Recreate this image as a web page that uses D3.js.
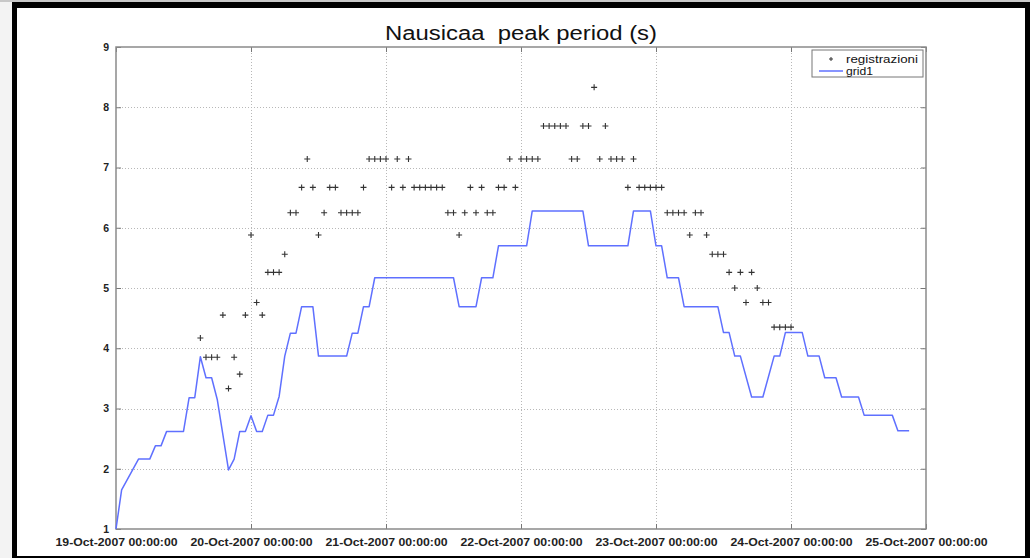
<!DOCTYPE html>
<html>
<head>
<meta charset="utf-8">
<script src="https://cdn.jsdelivr.net/npm/d3@7"></script>
<style>
  html, body { margin: 0; padding: 0; background: #fff; }
  svg { display: block; font-family: "Liberation Sans", Arial, sans-serif; }
</style>
</head>
<body>
<div id="chart"></div>
<script>
// Nausicaa peak period chart (MATLAB style)

const startDate = new Date(2007, 9, 19, 0, 0, 0);
const endDate = new Date(2007, 9, 25, 0, 0, 0);
const tickDays = ["19-Oct-2007 00:00:00", "20-Oct-2007 00:00:00", "21-Oct-2007 00:00:00",
                  "22-Oct-2007 00:00:00", "23-Oct-2007 00:00:00", "24-Oct-2007 00:00:00",
                  "25-Oct-2007 00:00:00"];
const yTicks = [1, 2, 3, 4, 5, 6, 7, 8, 9];

// grid1 model series: hours since 19-Oct 00:00 and peak period (s)
const gridHours = [0, 1, 4, 6, 7, 8, 9, 12, 13, 14, 15, 16, 17, 18, 20, 21, 22, 23, 24, 25,
                   26, 27, 28, 29, 30, 31, 32, 33, 35, 36, 41, 42, 43, 44, 45, 46, 60, 61, 64, 65,
                   67, 68, 73, 74, 83, 84, 91, 92, 95, 96, 97, 98, 100, 101, 107, 108, 109, 110, 111, 113,
                   115, 117, 118, 119, 122, 123, 125, 126, 128, 129, 132, 133, 138, 139, 141];
const gridValues = [1.0, 1.65, 2.16, 2.16, 2.38, 2.38, 2.62, 2.62, 3.18, 3.18, 3.86, 3.51, 3.51, 3.15, 1.98, 2.16, 2.62, 2.62, 2.88, 2.62,
                    2.62, 2.89, 2.89, 3.2, 3.87, 4.25, 4.25, 4.69, 4.69, 3.87, 3.87, 4.25, 4.25, 4.69, 4.69, 5.17, 5.17, 4.69, 4.69, 5.17,
                    5.17, 5.7, 5.7, 6.28, 6.28, 5.7, 5.7, 6.28, 6.28, 5.7, 5.7, 5.17, 5.17, 4.69, 4.69, 4.26, 4.26, 3.87, 3.87, 3.19,
                    3.19, 3.87, 3.87, 4.26, 4.26, 3.87, 3.87, 3.51, 3.51, 3.19, 3.19, 2.89, 2.89, 2.63, 2.63];

// registrazioni (buoy records): hours since 19-Oct 00:00 and peak period (s)
const obsHours = [15, 16, 17, 18, 19, 20, 21, 22, 23, 24, 25, 26, 27, 28, 29, 30, 31, 32, 33, 34,
                  35, 36, 37, 38, 39, 40, 41, 42, 43, 44, 45, 46, 47, 48, 49, 50, 51, 52, 53, 54,
                  55, 56, 57, 58, 59, 60, 61, 62, 63, 64, 65, 66, 67, 68, 69, 70, 71, 72, 73, 74,
                  75, 76, 77, 78, 79, 80, 81, 82, 83, 84, 85, 86, 87, 88, 89, 90, 91, 92, 93, 94,
                  95, 96, 97, 98, 99, 100, 101, 102, 103, 104, 105, 106, 107, 108, 109, 110, 111, 112, 113, 114,
                  115, 116, 117, 118, 119, 120];
const obsValues = [4.17, 3.85, 3.85, 3.85, 4.55, 3.33, 3.85, 3.57, 4.55, 5.88, 4.76, 4.55, 5.26, 5.26, 5.26, 5.56, 6.25, 6.25, 6.67, 7.14,
                   6.67, 5.88, 6.25, 6.67, 6.67, 6.25, 6.25, 6.25, 6.25, 6.67, 7.14, 7.14, 7.14, 7.14, 6.67, 7.14, 6.67, 7.14, 6.67, 6.67,
                   6.67, 6.67, 6.67, 6.67, 6.25, 6.25, 5.88, 6.25, 6.67, 6.25, 6.67, 6.25, 6.25, 6.67, 6.67, 7.14, 6.67, 7.14, 7.14, 7.14,
                   7.14, 7.69, 7.69, 7.69, 7.69, 7.69, 7.14, 7.14, 7.69, 7.69, 8.33, 7.14, 7.69, 7.14, 7.14, 7.14, 6.67, 7.14, 6.67, 6.67,
                   6.67, 6.67, 6.67, 6.25, 6.25, 6.25, 6.25, 5.88, 6.25, 6.25, 5.88, 5.56, 5.56, 5.56, 5.26, 5.0, 5.26, 4.76, 5.26, 5.0,
                   4.76, 4.76, 4.35, 4.35, 4.35, 4.35];

const width = 1030, height = 558;
const margin = { left: 116, right: 104, top: 47, bottom: 29 };

const svg = d3.select("#chart").append("svg")
    .attr("width", width)
    .attr("height", height);

// page frame
svg.append("rect").attr("x", 0).attr("y", 0).attr("width", 12).attr("height", height).attr("fill", "#f3f3f3");
svg.append("rect").attr("x", 0).attr("y", 0).attr("width", width).attr("height", 2).attr("fill", "#c8c8c8");
svg.append("rect").attr("x", 12).attr("y", 2).attr("width", width - 12).attr("height", 6).attr("fill", "#000");
svg.append("rect").attr("x", 12).attr("y", 2).attr("width", 5).attr("height", height - 2).attr("fill", "#000");
svg.append("rect").attr("x", 1025).attr("y", 2).attr("width", 5).attr("height", height - 2).attr("fill", "#000");
svg.append("rect").attr("x", 12).attr("y", 556).attr("width", width - 12).attr("height", 2).attr("fill", "#000");

const x = d3.scaleTime().domain([startDate, endDate]).range([margin.left, width - margin.right]);
const y = d3.scaleLinear().domain([1, 9]).range([height - margin.bottom, margin.top]);
const hourDate = h => d3.timeHour.offset(startDate, h);
const dayTicks = d3.timeDay.range(startDate, d3.timeDay.offset(endDate, 1));

const x0 = x.range()[0], x1 = x.range()[1], y0 = y.range()[0], y1 = y.range()[1];

// dotted grid
const grid = svg.append("g").attr("stroke", "#b8b8b8").attr("stroke-width", 1).attr("stroke-dasharray", "1,2");
grid.selectAll(".vg").data(dayTicks.slice(1, -1)).join("line")
    .attr("x1", d => Math.round(x(d)) + 0.5).attr("x2", d => Math.round(x(d)) + 0.5)
    .attr("y1", y1).attr("y2", y0);
grid.selectAll(".hg").data(yTicks.slice(1, -1)).join("line")
    .attr("x1", x0).attr("x2", x1)
    .attr("y1", d => Math.round(y(d)) + 0.5).attr("y2", d => Math.round(y(d)) + 0.5);

// axes (ticks pointing inward)
const xAxis = svg.append("g").attr("transform", `translate(0,${y0})`)
    .call(d3.axisTop(x).tickValues(dayTicks).tickSize(5).tickFormat((d, i) => tickDays[i]));
xAxis.select(".domain").remove();
xAxis.selectAll(".tick line").attr("stroke", "#777");
xAxis.selectAll(".tick text")
    .attr("y", 17).attr("font-size", 10.5).attr("font-weight", "bold").attr("fill", "#222")
    .attr("textLength", 122).attr("lengthAdjust", "spacingAndGlyphs");

const xAxisTop = svg.append("g").attr("transform", `translate(0,${y1})`)
    .call(d3.axisBottom(x).tickValues(dayTicks).tickSize(5).tickFormat(""));
xAxisTop.select(".domain").remove();
xAxisTop.selectAll(".tick line").attr("stroke", "#777");

const yAxis = svg.append("g").attr("transform", `translate(${x0},0)`)
    .call(d3.axisRight(y).tickValues(yTicks).tickSize(5).tickFormat(d3.format("d")));
yAxis.select(".domain").remove();
yAxis.selectAll(".tick line").attr("stroke", "#777");
yAxis.selectAll(".tick text")
    .attr("x", -7).attr("text-anchor", "end").attr("dy", "0.32em")
    .attr("font-size", 10.5).attr("font-weight", "bold").attr("fill", "#222");

const yAxisRight = svg.append("g").attr("transform", `translate(${x1},0)`)
    .call(d3.axisLeft(y).tickValues(yTicks).tickSize(5).tickFormat(""));
yAxisRight.select(".domain").remove();
yAxisRight.selectAll(".tick line").attr("stroke", "#777");

// box
svg.append("rect")
    .attr("x", x0).attr("y", y1).attr("width", x1 - x0).attr("height", y0 - y1)
    .attr("fill", "none").attr("stroke", "#8a8a8a").attr("stroke-width", 1.5);

// grid1 line
const gridData = gridHours.map((h, i) => ({ t: hourDate(h), v: gridValues[i] }));
svg.append("path")
    .datum(gridData)
    .attr("fill", "none")
    .attr("stroke", "#5f70ff")
    .attr("stroke-width", 1.5)
    .attr("stroke-linejoin", "round")
    .attr("d", d3.line().x(d => x(d.t)).y(d => y(d.v)));

// registrazioni markers
const obsData = obsHours.map((h, i) => ({ t: hourDate(h), v: obsValues[i] }));
const plus = "M-3,0H3M0,-3V3";
svg.append("g").selectAll("path").data(obsData).join("path")
    .attr("transform", d => `translate(${x(d.t)},${y(d.v)})`)
    .attr("d", plus)
    .attr("stroke", "#333")
    .attr("stroke-width", 1.1)
    .attr("fill", "none");

// title
svg.append("text")
    .attr("x", (x0 + x1) / 2).attr("y", 40)
    .attr("text-anchor", "middle")
    .attr("font-size", 20)
    .attr("fill", "#111")
    .style("white-space", "pre")
    .attr("textLength", 272).attr("lengthAdjust", "spacingAndGlyphs")
    .text("Nausicaa  peak period (s)");

// legend
const legend = svg.append("g").attr("transform", "translate(812,50)");
legend.append("rect")
    .attr("width", 111).attr("height", 27)
    .attr("fill", "#fff").attr("stroke", "#777").attr("stroke-width", 1);
legend.append("path")
    .attr("transform", "translate(19,9)")
    .attr("d", "M-2,0H2M0,-2V2").attr("stroke", "#333").attr("stroke-width", 1);
legend.append("text")
    .attr("x", 34).attr("y", 13).attr("font-size", 10).attr("fill", "#111")
    .attr("textLength", 72).attr("lengthAdjust", "spacingAndGlyphs")
    .text("registrazioni");
legend.append("line")
    .attr("x1", 7).attr("x2", 31).attr("y1", 21).attr("y2", 21)
    .attr("stroke", "#5f70ff").attr("stroke-width", 1.5);
legend.append("text")
    .attr("x", 34).attr("y", 25).attr("font-size", 10).attr("fill", "#111")
    .attr("textLength", 27).attr("lengthAdjust", "spacingAndGlyphs")
    .text("grid1");
</script>
</body>
</html>
